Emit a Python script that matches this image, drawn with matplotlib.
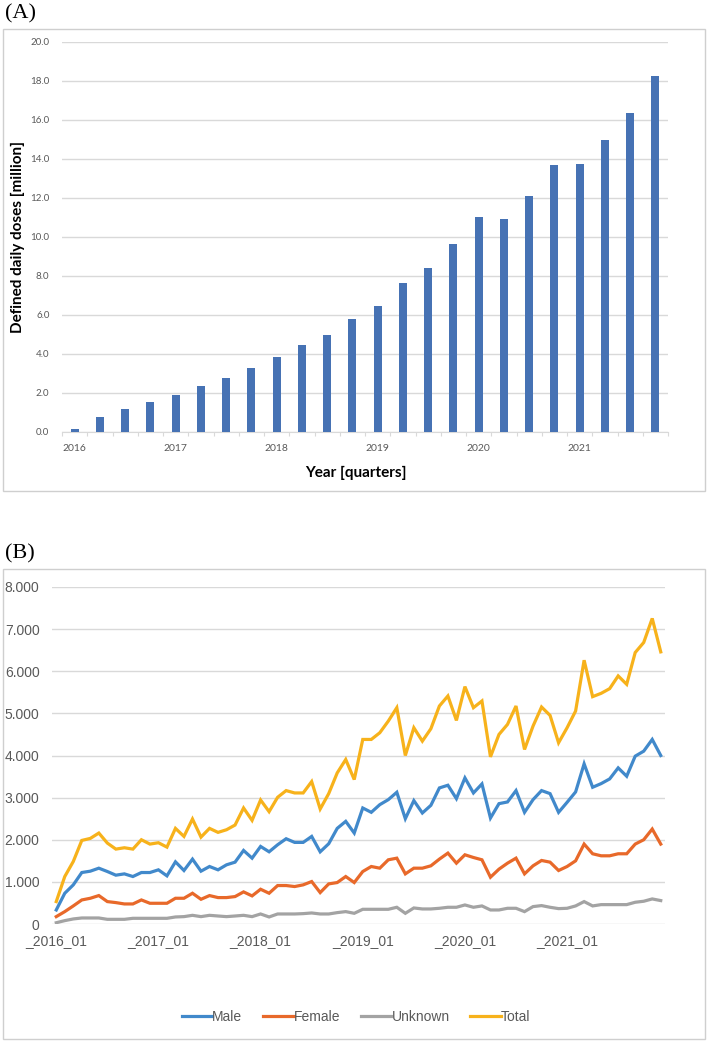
import numpy as np
import matplotlib
matplotlib.use("Agg")
import matplotlib.pyplot as plt
from matplotlib.patches import Rectangle
from matplotlib.ticker import FuncFormatter, FixedLocator

# ---------------- data ----------------
# (A) defined daily doses per quarter, million
quarters = [f"{y}_Q{q}" for y in range(2016, 2022) for q in range(1, 5)]
ddd_million = [0.17, 0.75, 1.16, 1.52, 1.88, 2.34, 2.75, 3.28, 3.83, 4.46, 4.96, 5.81,
               6.48, 7.64, 8.43, 9.66, 11.03, 10.91, 12.10, 13.67, 13.73, 14.96, 16.36, 18.27]
year_labels = ["2016", "2017", "2018", "2019", "2020", "2021"]

# (B) monthly values by sex
months = [f"_{y}_{m:02d}" for y in range(2016, 2022) for m in range(1, 13)]
male = [333, 730, 929, 1222, 1254, 1325, 1246, 1159, 1190, 1127, 1222, 1222,
        1286, 1143, 1476, 1270, 1540, 1254, 1365, 1286, 1405, 1468, 1746, 1563,
        1841, 1714, 1881, 2024, 1937, 1937, 2079, 1714, 1905, 2270, 2437, 2159,
        2754, 2651, 2833, 2952, 3127, 2500, 2929, 2635, 2817, 3230, 3294, 2976,
        3468, 3111, 3325, 2516, 2857, 2897, 3167, 2651, 2952, 3167, 3095, 2651,
        2889, 3135, 3802, 3246, 3333, 3444, 3706, 3508, 3984, 4103, 4381, 4000]
female = [175, 294, 429, 571, 611, 675, 532, 508, 476, 476, 571, 492,
          492, 492, 611, 611, 730, 587, 675, 627, 627, 651, 762, 667,
          825, 730, 913, 913, 889, 929, 1008, 746, 952, 984, 1127, 984,
          1246, 1365, 1325, 1524, 1563, 1190, 1325, 1325, 1381, 1540, 1683, 1444,
          1643, 1579, 1524, 1111, 1302, 1444, 1563, 1190, 1381, 1508, 1468, 1270,
          1365, 1500, 1897, 1667, 1619, 1619, 1667, 1667, 1897, 2000, 2254, 1897]
unknown = [30, 80, 120, 143, 143, 143, 111, 111, 111, 135, 135, 135,
           135, 135, 167, 175, 206, 175, 206, 190, 175, 190, 206, 175,
           238, 167, 238, 238, 238, 246, 262, 238, 238, 270, 294, 254,
           349, 349, 349, 349, 397, 254, 381, 357, 357, 373, 397, 397,
           452, 397, 429, 333, 333, 373, 373, 294, 413, 437, 397, 365,
           373, 429, 532, 429, 460, 460, 460, 460, 516, 540, 595, 556]
total = [532, 1127, 1484, 1984, 2032, 2159, 1921, 1778, 1810, 1778, 2000, 1897,
         1929, 1825, 2270, 2079, 2492, 2063, 2270, 2175, 2238, 2349, 2754, 2460,
         2944, 2667, 3008, 3167, 3111, 3111, 3381, 2730, 3095, 3587, 3905, 3429,
         4381, 4381, 4540, 4817, 5135, 4000, 4659, 4341, 4635, 5175, 5413, 4833,
         5635, 5135, 5294, 3968, 4500, 4738, 5175, 4143, 4698, 5151, 4952, 4302,
         4659, 5056, 6262, 5397, 5476, 5587, 5889, 5690, 6444, 6683, 7254, 6460]

series_names = ["Male", "Female", "Unknown", "Total"]
series_colors = ["#4189CB", "#E8692A", "#A3A3A3", "#F7B21B"]

# ---------------- layout helpers ----------------
W, H = 709, 1044
fig = plt.figure(figsize=(W / 100, H / 100), dpi=100)


def fr(x0, y0, x1, y1):
    return [x0 / W, 1 - y1 / H, (x1 - x0) / W, (y1 - y0) / H]


grid_c = "#d9d9d9"
txt_c = "#595959"

# outer chart frames
for (x0, y0, x1, y1) in [(3, 29, 705, 491), (3, 569, 705, 1039)]:
    fig.patches.append(Rectangle((x0 / W, 1 - y1 / H), (x1 - x0) / W, (y1 - y0) / H,
                                 transform=fig.transFigure, fill=False,
                                 edgecolor="#cfcfcf", linewidth=1))

fig.text(5 / W, 1 - 14 / H, "(A)", family="Liberation Serif", fontsize=16, va="center")
fig.text(5 / W, 1 - 554 / H, "(B)", family="Liberation Serif", fontsize=16, va="center")

# ---------------- panel A ----------------
axA = fig.add_axes(fr(62, 42, 668, 432))
xa = np.arange(len(ddd_million))
axA.bar(xa, ddd_million, width=0.32, color="#4672B4", zorder=3)
axA.set_xlim(-0.5, len(ddd_million) - 0.5)
axA.set_ylim(0, 20)
axA.set_yticks(np.arange(0, 20.1, 2))
axA.yaxis.set_major_formatter(FuncFormatter(lambda v, p: f"{v:.1f}"))
axA.grid(axis="y", color=grid_c, linewidth=1, zorder=0)
for s in ["top", "right", "left"]:
    axA.spines[s].set_visible(False)
axA.spines["bottom"].set_color(grid_c)
axA.tick_params(axis="y", length=0, pad=9, labelsize=7, labelcolor=txt_c)
axA.xaxis.set_major_locator(FixedLocator(np.arange(-0.5, len(ddd_million), 1)))
axA.tick_params(axis="x", which="major", length=3, color=grid_c, labelbottom=False)
axA.set_xticks(np.arange(0, len(ddd_million), 4), minor=True)
axA.set_xticklabels(year_labels, minor=True)
axA.tick_params(axis="x", which="minor", length=0, pad=9, labelsize=7.5, labelcolor=txt_c)
for lab in axA.get_yticklabels() + axA.get_xticklabels(minor=True):
    lab.set_family("Lato")
axA.set_ylabel("Defined daily doses [million]", family="Lato", fontweight="bold",
               fontsize=11, labelpad=4)
axA.set_xlabel("Year [quarters]", family="Lato", fontweight="bold", fontsize=11)
axA.xaxis.set_label_coords((356 - 62) / 606, -(473 - 432) / 390)
axA.xaxis.label.set_va("center")

# ---------------- panel B ----------------
axB = fig.add_axes(fr(52, 587, 665, 924))
xb = np.arange(len(months))
for vals, name, col in zip([male, female, unknown, total], series_names, series_colors):
    axB.plot(xb, vals, color=col, linewidth=2.3, label=name, zorder=3,
             solid_joinstyle="miter")
axB.set_xlim(-0.5, len(months) - 0.5)
axB.set_ylim(0, 8000)
axB.set_yticks(np.arange(0, 8001, 1000))
axB.yaxis.set_major_formatter(FuncFormatter(lambda v, p: f"{int(v):,}".replace(",", ".")))
axB.set_xticks(xb[::12])
axB.set_xticklabels(months[::12])
axB.grid(axis="y", color=grid_c, linewidth=1, zorder=0)
for s in ["top", "right", "left", "bottom"]:
    axB.spines[s].set_visible(False)
axB.tick_params(axis="both", length=0, labelsize=10, labelcolor=txt_c)
axB.tick_params(axis="y", pad=9)
axB.tick_params(axis="x", pad=7)
for lab in axB.get_yticklabels() + axB.get_xticklabels():
    lab.set_family("Liberation Sans")

leg = fig.legend(loc="center", bbox_to_anchor=(356 / W, 1 - 1017 / H), ncol=4,
                 frameon=False, handlelength=2.2, handletextpad=0.0, columnspacing=1.5,
                 prop={"family": "Liberation Sans", "size": 10})
for t in leg.get_texts():
    t.set_color(txt_c)

fig.savefig("out.png", dpi=100)
